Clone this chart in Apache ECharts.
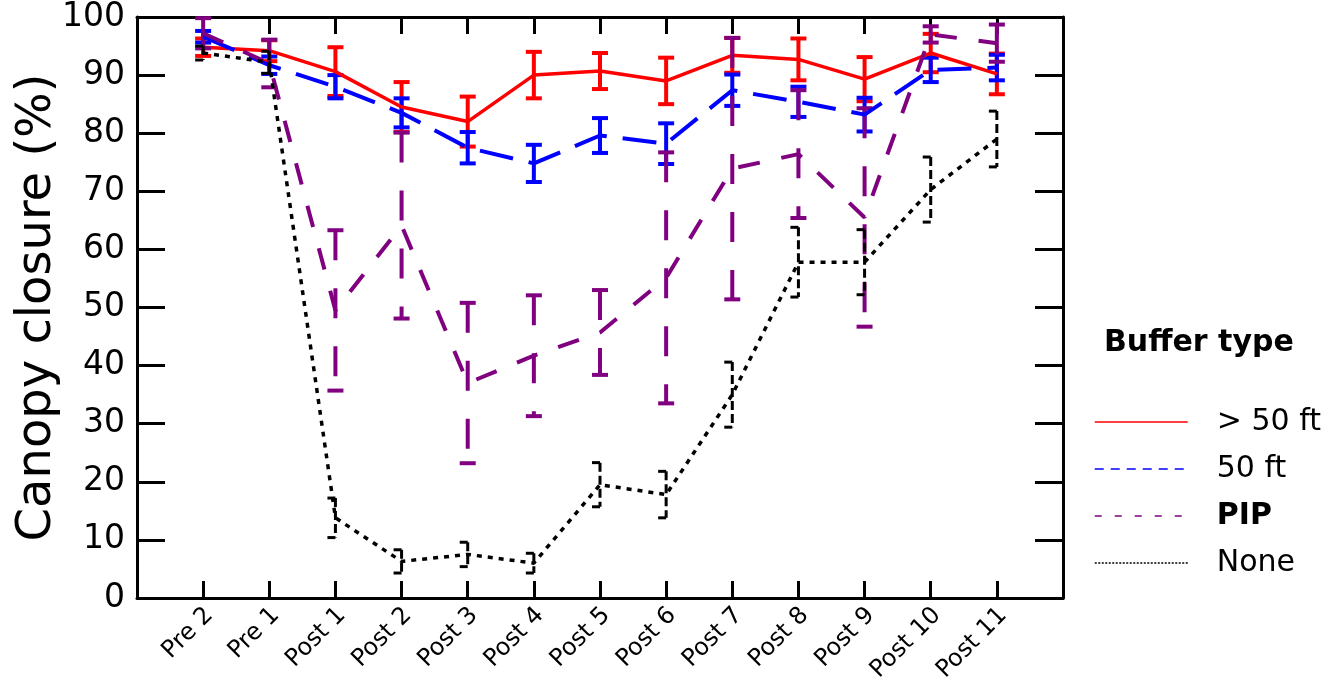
<!DOCTYPE html>
<html>
<head>
<meta charset="utf-8">
<script src="https://cdn.jsdelivr.net/npm/echarts@6/dist/echarts.min.js"></script>
<style>
html,body{margin:0;padding:0;background:#fff;}
#chart{width:1341px;height:696px;}
</style>
</head>
<body>
<div id="chart"></div>
<script>
const categories = ['Pre 2','Pre 1','Post 1','Post 2','Post 3','Post 4','Post 5','Post 6','Post 7','Post 8','Post 9','Post 10','Post 11'];
const yTicks = [0,10,20,30,40,50,60,70,80,90,100];

const meanOver50 = [94.8, 94.2, 90.6, 84.5, 82.0, 90.0, 90.7, 89.0, 93.4, 92.7, 89.3, 93.8, 90.2];
const errOver50  = [1.5, 1.8, 4.2, 4.3, 4.3, 4.0, 3.1, 4.0, 3.0, 3.6, 3.8, 3.3, 3.5];

const mean50 = [96.6, 91.7, 88.0, 83.5, 77.5, 74.8, 79.6, 78.2, 87.4, 85.4, 83.2, 90.9, 91.3];
const err50  = [1.0, 1.5, 2.0, 2.5, 2.7, 3.2, 3.0, 3.5, 2.7, 2.6, 2.9, 2.1, 2.2];

const meanPIP = [97.2, 92.0, 49.5, 64.1, 37.0, 41.7, 45.7, 55.1, 73.9, 76.4, 65.5, 97.0, 95.5];
const errPIP  = [2.6, 4.1, 13.8, 16.0, 13.8, 10.4, 7.3, 21.6, 22.5, 11.0, 18.8, 1.4, 3.2];

const meanNone = [93.8, 92.2, 13.8, 6.3, 7.5, 6.0, 19.5, 17.8, 35.0, 57.8, 57.8, 70.3, 79.0];
const errNone  = [1.2, 1.9, 3.4, 2.0, 2.1, 1.7, 3.8, 4.0, 5.6, 6.0, 5.6, 5.6, 4.8];

const seriesNames = ['> 50 ft', '50 ft', 'PIP', 'None'];

const FONT = 'DejaVu Sans';

function pts(mean){ return mean.map((v,i)=>[i+1, v]); }
function errs(mean, err){ return mean.map((v,i)=>[i+1, v-err[i], v+err[i]]); }

function errRender(color, width, dash, capMode){
  return function(params, api){
    const x = api.value(0), lo = api.value(1), hi = api.value(2);
    const p1 = api.coord([x, hi]), p2 = api.coord([x, lo]);
    const hw = 8;
    const lineSt = {stroke: color, lineWidth: width, lineDash: dash, fill: null};
    const capSt = {stroke: color, lineWidth: width, fill: null};
    const l = hw, r = capMode === 'left' ? 0 : hw;
    return {type:'group', children:[
      {type:'line', shape:{x1:p1[0], y1:p1[1], x2:p2[0], y2:p2[1]}, style: lineSt},
      {type:'line', shape:{x1:p1[0]-l, y1:p1[1], x2:p1[0]+r, y2:p1[1]}, style: capSt},
      {type:'line', shape:{x1:p2[0]-l, y1:p2[1], x2:p2[0]+r, y2:p2[1]}, style: capSt}
    ]};
  };
}

const colors = ['#ff0000', '#0000ff', '#800080', '#000000'];
const means = [meanOver50, mean50, meanPIP, meanNone];
const errsArr = [errOver50, err50, errPIP, errNone];
const lineDashes = ['solid', [34,16], [22,22], [5,6]];
const lineWidths = [3.5, 4, 4, 3.5];
const barDashes = [null, null, [30,28], [9,4]];

const series = [];
[0,1,2,3].forEach(k=>{
  series.push({
    type:'custom', name: seriesNames[k]+' err', silent:true,
    renderItem: errRender(colors[k], k===3?3:4, barDashes[k], k===3?'left':'both'),
    data: errs(means[k], errsArr[k]), z: 2 + k
  });
});
[0,1,2,3].forEach(k=>{
  series.push({
    type:'line', name: seriesNames[k], data: pts(means[k]),
    symbol:'none', color: colors[k],
    lineStyle:{color: colors[k], width: lineWidths[k], type: lineDashes[k], cap:'butt'},
    z: 3 + k
  });
});

const legendDash = ['solid', [9,7], [7,13], [2,1.5]];
const chart = echarts.init(document.getElementById('chart'), null, {renderer:'canvas'});
chart.setOption({
  animation:false,
  backgroundColor:'#fff',
  title:{text:'Buffer type', left:1104, top:328, padding:0,
    textStyle:{fontFamily:FONT, fontSize:30, fontWeight:'bold', color:'#000'}},
  legend:{
    orient:'vertical', left:1094, top:404, padding:0,
    itemWidth:93, itemHeight:14, itemGap:11,
    itemStyle:{opacity:0},
    textStyle:{fontFamily:FONT, fontSize:30, color:'#000', lineHeight:36, padding:[0,0,0,24]},
    data: seriesNames.map((n,k)=>({
      name:n,
      itemStyle:{opacity:0},
      lineStyle:{color:colors[k], width:1.5, type:legendDash[k]},
      textStyle: k===2 ? {fontWeight:'bold'} : {}
    }))
  },
  grid:{left:137, right:278, top:17, bottom:98, containLabel:false, outerBoundsMode:'none'},
  xAxis:[{
    type:'value', min:0, max:14, interval:1, position:'bottom',
    axisLine:{show:true, onZero:false, lineStyle:{color:'#000', width:3}},
    axisTick:{show:true, inside:true, length:17, lineStyle:{color:'#000', width:3}},
    splitLine:{show:false},
    axisLabel:{rotate:45, margin:20, padding:[0,-9,0,0], fontFamily:FONT, fontSize:24, color:'#000',
      formatter:v=>categories[v-1] || ''}
  },{
    type:'value', min:0, max:14, interval:1, position:'top',
    axisLine:{show:true, onZero:false, lineStyle:{color:'#000', width:3}},
    axisTick:{show:true, inside:true, length:17, lineStyle:{color:'#000', width:3}},
    splitLine:{show:false}, axisLabel:{show:false}
  }],
  yAxis:[{
    type:'value', min:yTicks[0], max:yTicks[yTicks.length-1], interval:10, position:'left',
    name:'Canopy closure (%)', nameLocation:'middle', nameGap:75, nameRotate:90, nameMoveOverlap:false,
    nameTextStyle:{fontFamily:FONT, fontSize:48, color:'#000'},
    axisLine:{show:true, onZero:false, lineStyle:{color:'#000', width:3}},
    axisTick:{show:true, inside:true, length:28, lineStyle:{color:'#000', width:3}},
    splitLine:{show:false},
    axisLabel:{margin:12, fontFamily:FONT, fontSize:33, color:'#000'}
  },{
    type:'value', min:0, max:100, interval:10, position:'right',
    axisLine:{show:true, onZero:false, lineStyle:{color:'#000', width:3}},
    axisTick:{show:true, inside:true, length:28, lineStyle:{color:'#000', width:3}},
    splitLine:{show:false}, axisLabel:{show:false}
  }],
  series: series
});
</script>
</body>
</html>
